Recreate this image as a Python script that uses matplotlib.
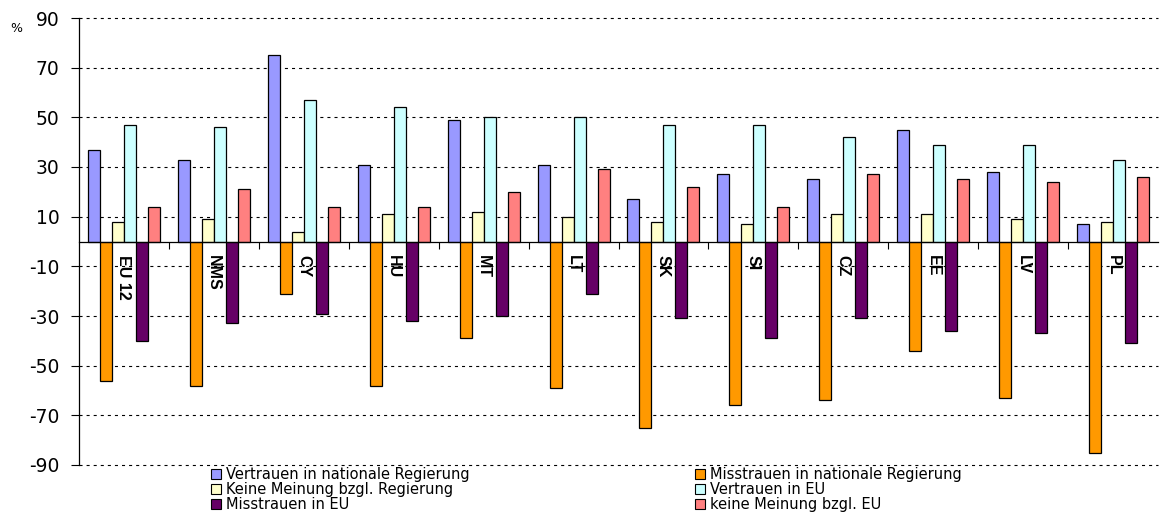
import numpy as np
import matplotlib
matplotlib.use("Agg")
import matplotlib.pyplot as plt
from matplotlib.patches import Patch

plt.rcParams['font.family'] = ['DejaVu Sans']
plt.rcParams['lines.scale_dashes'] = False
plt.rcParams['axes.unicode_minus'] = False

countries = ['EU 12', 'NMS', 'CY', 'HU', 'MT', 'LT', 'SK', 'SI', 'CZ', 'EE', 'LV', 'PL']

vertrauen_reg = [37, 33, 75, 31, 49, 31, 17, 27, 25, 45, 28, 7]
misstrauen_reg = [-56, -58, -21, -58, -39, -59, -75, -66, -64, -44, -63, -85]
keine_meinung_reg = [8, 9, 4, 11, 12, 10, 8, 7, 11, 11, 9, 8]
vertrauen_eu = [47, 46, 57, 54, 50, 50, 47, 47, 42, 39, 39, 33]
misstrauen_eu = [-40, -33, -29, -32, -30, -21, -31, -39, -31, -36, -37, -41]
keine_meinung_eu = [14, 21, 14, 14, 20, 29, 22, 14, 27, 25, 24, 26]

series = [
    ('Vertrauen in nationale Regierung', vertrauen_reg, '#9999FF'),
    ('Misstrauen in nationale Regierung', misstrauen_reg, '#FF9900'),
    ('Keine Meinung bzgl. Regierung', keine_meinung_reg, '#FFFFCC'),
    ('Vertrauen in EU', vertrauen_eu, '#CCFFFF'),
    ('Misstrauen in EU', misstrauen_eu, '#660066'),
    ('keine Meinung bzgl. EU', keine_meinung_eu, '#FF8080'),
]

W, H = 1161, 513
fig = plt.figure(figsize=(W / 100, H / 100), dpi=100)
ax = fig.add_axes([79 / W, 1 - 465 / H, (1158 - 79) / W, (465 - 18) / H])

x = np.arange(len(countries))
width = 1 / 7.5
handles = []
for j, (name, vals, col) in enumerate(series):
    ax.bar(x + (j - 2.5) * width, vals, width, color=col,
           edgecolor='black', linewidth=0.9, zorder=2)
    handles.append(Patch(facecolor=col, edgecolor='black', linewidth=0.8, label=name))

ax.set_xlim(-0.5, len(countries) - 0.5)
ax.set_ylim(-90, 90)
ax.set_yticks(np.arange(-90, 91, 20))
ax.yaxis.grid(True, color='black', linestyle=(0, (2.2, 2.9)), linewidth=0.8)
for gl in ax.get_ygridlines():
    gl.set_clip_on(False)
ax.set_axisbelow(True)
ax.tick_params(axis='y', labelsize=13.5, length=6, width=0.8, pad=8)

# x axis drawn through zero, category names hanging below it
ax.spines['top'].set_visible(False)
ax.spines['right'].set_visible(False)
ax.spines['bottom'].set_position(('data', 0))
ax.spines['bottom'].set_zorder(3)
ax.spines['left'].set_linewidth(0.9)
ax.spines['bottom'].set_linewidth(0.9)
ax.set_xticks(x)
ax.set_xticklabels(countries, rotation=270, fontweight='bold', fontsize=11.5,
                   family='Liberation Sans')
ax.tick_params(axis='x', length=0, pad=10)
ax.set_xticks(np.arange(len(countries) - 1) + 0.5, minor=True)
ax.tick_params(axis='x', which='minor', length=5, width=0.8, direction='out')

fig.text(10 / W, 1 - 28 / H, '%', fontsize=9, va='center')

# two legend columns, each placed at its own left edge
legend_kw = dict(loc='upper left', bbox_transform=fig.transFigure, frameon=False,
                 fontsize=10.5, handlelength=0.7, handleheight=0.7, handletextpad=0.3,
                 labelspacing=0.0, borderpad=0, borderaxespad=0)
left = ax.legend([handles[i] for i in (0, 2, 4)],
                 [handles[i].get_label() for i in (0, 2, 4)],
                 bbox_to_anchor=(211 / W, 1 - 467 / H), **legend_kw)
ax.add_artist(left)
ax.legend([handles[i] for i in (1, 3, 5)],
          [handles[i].get_label() for i in (1, 3, 5)],
          bbox_to_anchor=(695 / W, 1 - 467 / H), **legend_kw)

fig.savefig('out.png', dpi=100)
